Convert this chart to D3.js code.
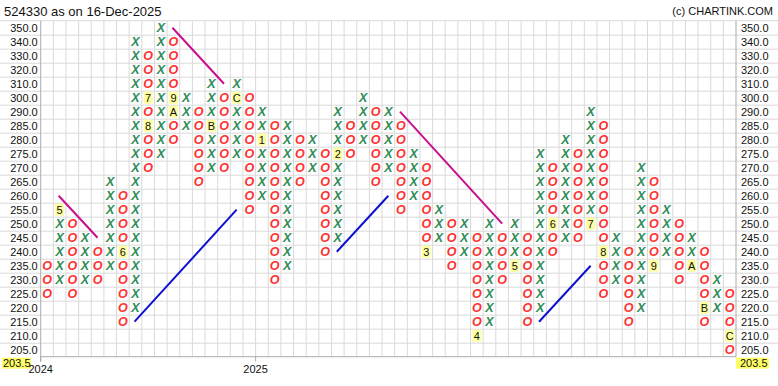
<!DOCTYPE html>
<html><head><meta charset="utf-8">
<script src="https://cdn.jsdelivr.net/npm/d3@7"></script>
<style>body{margin:0;background:#fff}svg{display:block}text{font-family:"Liberation Sans",Arial,sans-serif}</style>
</head><body><svg id="c" width="778" height="386"></svg>
<script>
const priceLevels=[350,340,330,320,310,300,290,285,280,275,270,265,260,255,250,245,240,235,230,225,220,215,210,205];
const colTypes="OXOXOXOXOXOXOXOXOXOXOXOXOXOXOXOXOXOXOXOXOXOXOXOXOXOXOXO".split("");
const colLow =[225,230,225,230,230,235,215,220,270,275,280,285,265,270,270,275,255,260,230,235,265,270,240,245,275,280,265,270,255,260,240,245,235,240,210,215,230,235,215,220,240,245,245,250,225,230,215,220,235,240,230,235,215,220,205];
const colHigh=[235,255,250,245,240,265,260,340,330,350,340,300,290,310,300,310,300,290,285,285,280,280,275,290,285,300,290,290,285,275,270,255,250,250,245,250,245,250,245,275,270,280,275,290,285,245,240,270,265,255,250,245,240,230,225];
const monthCols  =[1,6,8,8,10,10,13,15,17,23,30,34,37,40,43,44,48,51,52,54];
const monthPrices=[255,240,300,285,300,290,285,300,280,275,240,210,235,250,250,240,235,235,220,210];
const monthLabels=["5","6","7","8","9","A","B","C","1","2","3","4","5","6","7","8","9","A","B","C"];
const trendLines=[[1,260,4,245,"#c8108f"],[10,350,14,310,"#c8108f"],[28,290,36,250,"#c8108f"],[7,215,15,255,"#1010d0"],[23,240,27,260,"#1010d0"],[39,215,43,235,"#1010d0"]];
const yearCols=[0,17], yearLabels=["2024","2025"];
const minLabel="203.5";

const svg=d3.select("#c");
const L=40.7,R=736,T=20.7,B=356.7;
const x=d3.scaleBand().domain(d3.range(colTypes.length)).range([L,R]);
const y=d3.scaleBand().domain(priceLevels).range([T,B]);
const cx=i=>x(i)+x.bandwidth()/2, cy=p=>y(p)+y.bandwidth()/2;

// grid
const g=svg.append("g");
g.selectAll("line.h").data(priceLevels.slice(1)).join("line")
 .attr("x1",0).attr("x2",778).attr("y1",d=>y(d)+0.5).attr("y2",d=>y(d)+0.5)
 .attr("stroke","#d9d9d9");
g.append("line").attr("x1",0).attr("x2",778).attr("y1",T).attr("y2",T).attr("stroke","#d9d9d9");
g.selectAll("line.v").data(d3.range(1,colTypes.length)).join("line")
 .attr("x1",d=>x(d)).attr("x2",d=>x(d)).attr("y1",T).attr("y2",B).attr("stroke","#d9d9d9");
g.append("line").attr("x1",L).attr("x2",L).attr("y1",T).attr("y2",B+5).attr("stroke","#aaa");
g.append("line").attr("x1",R).attr("x2",R).attr("y1",T).attr("y2",B).attr("stroke","#aaa");
g.append("line").attr("x1",L).attr("x2",R).attr("y1",B).attr("y2",B).attr("stroke","#aaa");
g.selectAll("line.t").data(yearCols).join("line").attr("x1",d=>x(d)).attr("x2",d=>x(d)).attr("y1",B).attr("y2",B+5).attr("stroke","#aaa");

// axis labels
svg.selectAll("text.yl").data(priceLevels).join("text").attr("x",L-3).attr("y",d=>cy(d)+4)
 .attr("text-anchor","end").attr("font-size",11).attr("fill","#111").text(d=>d.toFixed(1));
svg.selectAll("text.yr").data(priceLevels).join("text").attr("x",R+5).attr("y",d=>cy(d)+4)
 .attr("font-size",11).attr("fill","#111").text(d=>d.toFixed(1));
svg.append("rect").attr("x",2).attr("y",B+1).attr("width",29).attr("height",11).attr("fill","#ffff66");
svg.append("text").attr("x",3).attr("y",B+10).attr("font-size",11).attr("fill","#111").text(minLabel);
svg.append("rect").attr("x",R).attr("y",B+1).attr("width",33).attr("height",11).attr("fill","#ffff66");
svg.append("text").attr("x",R+4).attr("y",B+10).attr("font-size",11).attr("fill","#111").text(minLabel);
svg.selectAll("text.yr2").data(yearCols).join("text").attr("x",d=>x(d)).attr("y",B+16).attr("text-anchor","middle")
 .attr("font-size",11).attr("fill","#111").text((d,i)=>yearLabels[i]);

svg.append("text").attr("x",4).attr("y",16).attr("font-size",13).attr("fill","#111").text("524330 as on 16-Dec-2025");
svg.append("text").attr("x",773).attr("y",15).attr("text-anchor","end").attr("font-size",11).attr("fill","#111").text("(c) CHARTINK.COM");

// boxes
const monthKey=new Map(monthCols.map((c,i)=>[c+"_"+monthPrices[i],monthLabels[i]]));
const boxes=[];
colTypes.forEach((t,i)=>{priceLevels.forEach(p=>{if(p>=colLow[i]&&p<=colHigh[i]){const k=i+"_"+p;boxes.push({i,p,t,m:monthKey.get(k)});}});});
const bg=svg.append("g");
bg.selectAll("text.s").data(boxes.filter(b=>!b.m)).join("text")
 .attr("x",b=>cx(b.i)).attr("y",b=>cy(b.p)+4.5).attr("text-anchor","middle")
 .attr("font-size",12.5).attr("font-style","italic").attr("font-weight","bold")
 .attr("fill",b=>b.t==="X"?"#2e8b57":"#ff3030").text(b=>b.t);
const mb=boxes.filter(b=>b.m);
bg.selectAll("rect.m").data(mb).join("rect").attr("x",b=>cx(b.i)-4.5).attr("y",b=>cy(b.p)-6)
 .attr("width",9).attr("height",12).attr("fill","#ffffa0");
bg.selectAll("text.m").data(mb).join("text").attr("x",b=>cx(b.i)).attr("y",b=>cy(b.p)+4)
 .attr("text-anchor","middle").attr("font-size",11).attr("fill","#111").text(b=>b.m);

// trend lines
svg.selectAll("line.tr").data(trendLines).join("line")
 .attr("x1",d=>cx(d[0])-1).attr("y1",d=>cy(d[1])).attr("x2",d=>cx(d[2])).attr("y2",d=>cy(d[3]))
 .attr("stroke",d=>d[4]).attr("stroke-width",2);
</script></body></html>
